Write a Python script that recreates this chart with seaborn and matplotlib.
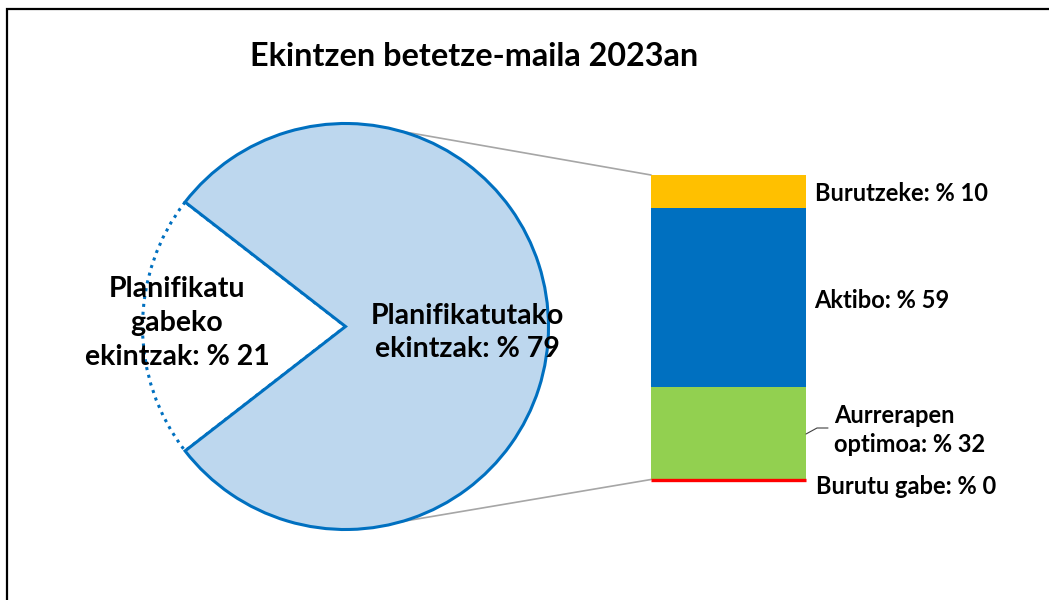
import numpy as np
import matplotlib
matplotlib.use("Agg")
import matplotlib.pyplot as plt
import seaborn as sns
from matplotlib.patches import ConnectionPatch, Rectangle

# data
title = "Ekintzen betetze-maila 2023an"
pie_labels = ["Planifikatutako\nekintzak: % 79", "Planifikatu\ngabeko\nekintzak: % 21"]
pie_values = [79, 21]
bar_labels = ["Burutu gabe: % 0", "Aurrerapen\noptimoa: % 32", "Aktibo: % 59", "Burutzeke: % 10"]
bar_values = [0, 30.4, 58.7, 10.9]

sns.set_theme(style="white")
plt.rcParams["font.family"] = ["Lato", "DejaVu Sans"]
plt.rcParams["text.color"] = "black"

W, H = 1049, 600
fig = plt.figure(figsize=(W / 100, H / 100), dpi=100)
fig.patch.set_facecolor("white")

def px_box(cx, cy, hw, hh):
    # axes rectangle from pixel centre / half sizes (y from top)
    return [(cx - hw) / W, (H - cy - hh) / H, 2 * hw / W, 2 * hh / H]

# ---- pie
r_px = 203
lim = 1.1
ax_pie = fig.add_axes(px_box(345.5, 326.5, r_px * lim, r_px * lim))
start = 180 + pie_values[1] / sum(pie_values) * 180
wedges, _ = ax_pie.pie(pie_values, startangle=start, counterclock=True,
                       colors=["#BDD7EE", "white"],
                       wedgeprops=dict(edgecolor="#0070C0", linewidth=2.2))
wedges[1].set_linestyle((0, (1, 1.6)))
wedges[1].set_zorder(0)
wedges[0].set_zorder(1)
ax_pie.set_xlim(-lim, lim)
ax_pie.set_ylim(-lim, lim)
ax_pie.set_aspect("equal")
ax_pie.axis("off")

ax_pie.text(0.60, -0.03, pie_labels[0], ha="center", va="center",
            fontsize=20.5, fontweight="bold", linespacing=1.32, zorder=5)
ax_pie.text(-0.83, 0.015, pie_labels[1], ha="center", va="center",
            fontsize=20.5, fontweight="bold", linespacing=1.38, zorder=5)

# ---- stacked bar (cumulative totals drawn back to front)
total = sum(bar_values)
ax_bar = fig.add_axes([651 / W, (H - 479.5) / H, 155 / W, 304.5 / H])
colors = ["#FF0000", "#92D050", "#0070C0", "#FFC000"]
tops = np.cumsum(bar_values)
for i in reversed(range(len(bar_values))):
    if bar_values[i] == 0:
        sns.barplot(x=["bar"], y=[tops[i]], color=colors[i], saturation=1,
                    width=1, edgecolor=colors[i], linewidth=2.4, ax=ax_bar)
    else:
        sns.barplot(x=["bar"], y=[tops[i]], color=colors[i], saturation=1,
                    width=1, linewidth=0, ax=ax_bar)
for p in ax_bar.patches:
    p.set_clip_on(False)
ax_bar.set_xlim(-0.5, 0.5)
ax_bar.set_ylim(0, total)
ax_bar.axis("off")

# bar labels
fs = 17
fig.text(816 / W, 1 - 486 / H, bar_labels[0], ha="left", va="center", fontsize=fs, fontweight="bold")
fig.text(834 / W, 1 - 430 / H, bar_labels[1], ha="left", va="center", fontsize=fs, fontweight="bold",
         linespacing=1.32)
fig.text(814 / W, 1 - 301 / H, bar_labels[2], ha="left", va="center", fontsize=fs, fontweight="bold")
fig.text(815 / W, 1 - 194 / H, bar_labels[3], ha="left", va="center", fontsize=fs, fontweight="bold")
# leader line for the green label
fig.add_artist(plt.Line2D([806 / W, 817 / W, 828 / W], [1 - 434 / H, 1 - 428 / H, 1 - 428 / H],
                          color="#404040", linewidth=0.8))

# ---- connector lines from pie to bar
ang = np.deg2rad(74)
for y_pie, y_bar in [(np.sin(ang), total), (-np.sin(ang), 0)]:
    con = ConnectionPatch(xyA=(np.cos(ang), y_pie), coordsA=ax_pie.transData,
                          xyB=(-0.5, y_bar), coordsB=ax_bar.transData,
                          color="#A6A6A6", linewidth=1.2, zorder=0)
    fig.add_artist(con)

# ---- title
fig.text(474 / W, 1 - 57 / H, title, ha="center", va="center", fontsize=23.3, fontweight="bold")

# ---- outer frame (only top and left edges fall inside the picture)
fig.add_artist(Rectangle((7 / W, -0.1), 1.2, (H - 9) / H + 0.1, transform=fig.transFigure,
                         fill=False, edgecolor="black", linewidth=1.6))

fig.savefig("out.png", dpi=100)
